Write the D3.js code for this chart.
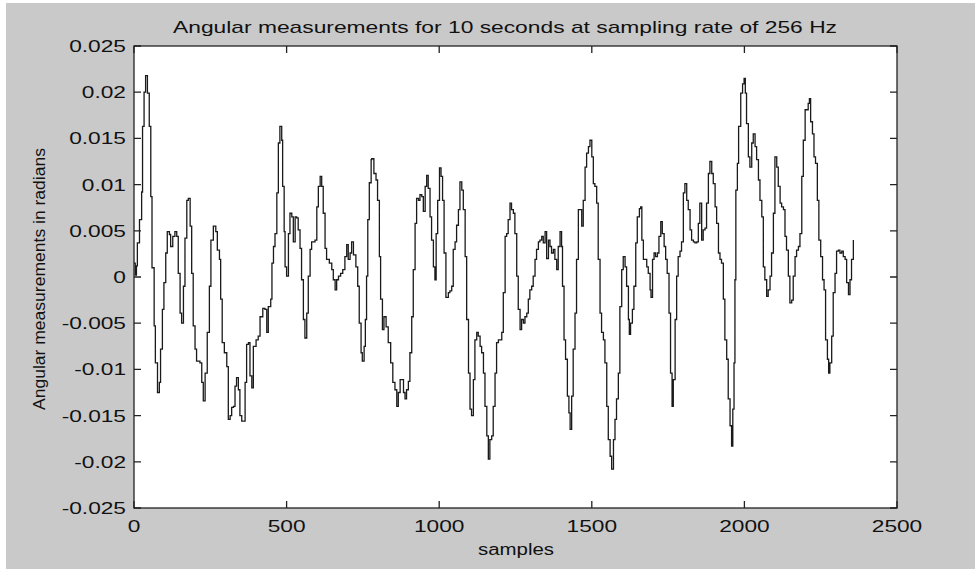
<!DOCTYPE html>
<html>
<head>
<meta charset="utf-8">
<script src="https://cdn.jsdelivr.net/npm/d3@7"></script>
<style>
  body { margin: 0; background: #fff; }
  text { font-family: "Liberation Sans", Arial, sans-serif; fill: #111; }
</style>
</head>
<body>
<svg id="chart" width="975" height="569"></svg>
<script>
// sample index and angle (rad)
const samples = [0, 4, 8, 11, 18, 25, 28, 33, 38, 44, 50, 55, 59, 66, 70, 77, 83, 87, 93, 98, 104, 109, 116, 120, 127, 134, 140, 145, 151, 156, 162, 167, 173, 178, 184, 189, 194, 200, 205, 216, 222, 227, 233, 240, 247, 252, 260, 268, 273, 280, 284, 289, 296, 304, 309, 315, 320, 326, 331, 336, 342, 347, 353, 358, 364, 369, 375, 380,
  386, 391, 400, 407, 413, 422, 429, 435, 440, 448, 452, 457, 462, 468, 473, 478, 484, 487, 492, 495, 500, 506, 511, 517, 522, 528, 533, 538, 544, 549, 555, 560, 566, 571, 577, 582, 593, 599, 604, 610, 615, 620, 626, 631, 640, 648, 653, 659, 664, 670, 677, 684, 691, 697, 702, 708, 713, 719, 727, 733, 738, 744, 748, 754, 758, 762, 766, 771, 777,
  779, 786, 793, 798, 804, 808, 814, 819, 826, 833, 841, 848, 855, 861, 866, 872, 877, 883, 888, 893, 899, 904, 910, 915, 921, 926, 932, 937, 943, 948, 954, 959, 964, 970, 975, 981, 986, 990, 995, 1001, 1006, 1011, 1016, 1022, 1030, 1035, 1041, 1046, 1052, 1057, 1063, 1068, 1074, 1079, 1085, 1090, 1096, 1101, 1106, 1112, 1117, 1123, 1128, 1134, 1139, 1145, 1150, 1156, 1161, 1166,
  1172, 1177, 1183, 1188, 1194, 1199, 1205, 1210, 1216, 1221, 1226, 1232, 1237, 1243, 1248, 1254, 1259, 1265, 1270, 1276, 1281, 1287, 1292, 1297, 1303, 1308, 1314, 1319, 1325, 1330, 1336, 1341, 1347, 1352, 1358, 1363, 1368, 1374, 1379, 1385, 1390, 1396, 1401, 1404, 1409, 1414, 1420, 1425, 1429, 1434, 1439, 1445, 1450, 1456, 1461, 1467, 1472, 1478, 1483, 1489, 1494, 1500, 1505, 1510, 1516, 1521, 1527, 1532, 1538, 1543, 1549, 1554, 1560, 1565,
  1571, 1576, 1581, 1587, 1592, 1598, 1603, 1609, 1614, 1620, 1623, 1627, 1633, 1638, 1644, 1649, 1656, 1660, 1664, 1669, 1674, 1680, 1685, 1691, 1694, 1699, 1704, 1709, 1715, 1720, 1726, 1731, 1737, 1742, 1747, 1753, 1758, 1763, 1767, 1773, 1778, 1783, 1789, 1794, 1800, 1805, 1811, 1816, 1822, 1827, 1833, 1838, 1844, 1849, 1854, 1860, 1865, 1871, 1876, 1882, 1887, 1893, 1898, 1904, 1909, 1915, 1920, 1925, 1931, 1936, 1942, 1947, 1953, 1958,
  1962, 1966, 1969, 1972, 1977, 1981, 1988, 1994, 1999, 2003, 2007, 2013, 2018, 2024, 2029, 2035, 2040, 2046, 2051, 2057, 2062, 2067, 2073, 2078, 2084, 2089, 2095, 2100, 2106, 2111, 2117, 2122, 2128, 2133, 2138, 2144, 2149, 2155, 2160, 2166, 2171, 2177, 2182, 2188, 2193, 2199, 2204, 2209, 2213, 2217, 2223, 2228, 2233, 2239, 2244, 2250, 2256, 2261, 2266, 2272, 2276, 2280, 2286, 2291, 2297, 2302, 2308, 2313, 2319, 2324, 2330, 2335, 2341, 2346, 2351, 2357];
const angles = [0.0015, 0.0002, 0.0012, 0.0037, 0.0062, 0.0092, 0.0163, 0.0200, 0.0218, 0.0199, 0.0163, 0.0087, 0.0010, -0.0053, -0.0093, -0.0125, -0.0114, -0.0078, -0.0035, -0.0006, 0.0026, 0.0049, 0.0046, 0.0033, 0.0044, 0.0049, 0.0044, 0.0004, -0.0039, -0.0050, -0.0010, 0.0042, 0.0083, 0.0085, 0.0055, 0.0004, -0.0053, -0.0078, -0.0091, -0.0093, -0.0114, -0.0134, -0.0104, -0.0060, -0.0010, 0.0040, 0.0055, 0.0049, 0.0029, 0.0019, -0.0024, -0.0071, -0.0082, -0.0097, -0.0154, -0.0150, -0.0141, -0.0140, -0.0118, -0.0109, -0.0122, -0.0150, -0.0156, -0.0156, -0.0114, -0.0073, -0.0071, -0.0107,
  -0.0120, -0.0075, -0.0068, -0.0064, -0.0043, -0.0034, -0.0035, -0.0060, -0.0032, -0.0024, 0.0015, 0.0033, 0.0047, 0.0091, 0.0145, 0.0163, 0.0148, 0.0098, 0.0049, 0.0011, 0.0001, 0.0047, 0.0069, 0.0065, 0.0038, 0.0065, 0.0064, 0.0051, 0.0031, -0.0003, -0.0046, -0.0066, -0.0039, 0.0001, 0.0030, 0.0038, 0.0040, 0.0076, 0.0098, 0.0109, 0.0098, 0.0069, 0.0031, 0.0019, 0.0015, 0.0008, -0.0003, -0.0014, -0.0003, 0.0001, 0.0004, 0.0008, 0.0022, 0.0035, 0.0019, 0.0026, 0.0038, 0.0024, 0.0011, -0.0010, -0.0050, -0.0082, -0.0091, -0.0075, -0.0046, 0.0001, 0.0062, 0.0102, 0.0127,
  0.0128, 0.0112, 0.0105, 0.0083, 0.0022, -0.0024, -0.0057, -0.0043, -0.0054, -0.0071, -0.0093, -0.0114, -0.0122, -0.0140, -0.0125, -0.0111, -0.0111, -0.0125, -0.0132, -0.0122, -0.0113, -0.0082, -0.0043, 0.0008, 0.0058, 0.0085, 0.0083, 0.0089, 0.0087, 0.0071, 0.0098, 0.0110, 0.0096, 0.0065, 0.0040, 0.0011, -0.0003, 0.0047, 0.0083, 0.0118, 0.0109, 0.0083, 0.0026, -0.0022, -0.0017, -0.0015, -0.0010, 0.0030, 0.0038, 0.0056, 0.0073, 0.0103, 0.0094, 0.0073, 0.0022, -0.0046, -0.0104, -0.0143, -0.0150, -0.0111, -0.0068, -0.0060, -0.0064, -0.0075, -0.0082, -0.0104, -0.0140, -0.0172, -0.0197, -0.0176,
  -0.0172, -0.0140, -0.0104, -0.0071, -0.0068, -0.0068, -0.0060, -0.0017, 0.0044, 0.0047, 0.0062, 0.0080, 0.0073, 0.0069, 0.0047, 0.0001, -0.0035, -0.0057, -0.0046, -0.0050, -0.0043, -0.0039, -0.0024, -0.0014, -0.0010, 0.0001, 0.0019, 0.0030, 0.0038, 0.0040, 0.0044, 0.0037, 0.0049, 0.0020, 0.0040, 0.0033, 0.0026, 0.0030, 0.0019, 0.0008, 0.0033, 0.0049, 0.0033, -0.0010, -0.0068, -0.0089, -0.0129, -0.0147, -0.0165, -0.0129, -0.0078, -0.0039, 0.0019, 0.0073, 0.0073, 0.0055, 0.0083, 0.0119, 0.0134, 0.0141, 0.0148, 0.0130, 0.0101, 0.0098, 0.0080, 0.0019, -0.0039, -0.0060, -0.0068, -0.0093, -0.0140, -0.0176, -0.0194, -0.0208,
  -0.0176, -0.0154, -0.0132, -0.0104, -0.0032, 0.0008, 0.0022, 0.0011, -0.0010, -0.0046, -0.0062, -0.0050, -0.0035, -0.0010, 0.0037, 0.0065, 0.0074, 0.0076, 0.0040, 0.0019, 0.0019, 0.0011, 0.0004, -0.0014, -0.0022, 0.0019, 0.0026, 0.0022, 0.0026, 0.0044, 0.0060, 0.0047, 0.0033, 0.0019, 0.0004, -0.0039, -0.0104, -0.0140, -0.0111, -0.0046, 0.0001, 0.0022, 0.0028, 0.0038, 0.0091, 0.0101, 0.0083, 0.0073, 0.0051, 0.0040, 0.0038, 0.0037, 0.0038, 0.0058, 0.0080, 0.0040, 0.0051, 0.0053, 0.0080, 0.0112, 0.0125, 0.0112, 0.0101, 0.0076, 0.0058, 0.0026, 0.0019, 0.0015, -0.0024, -0.0068, -0.0089, -0.0132, -0.0161, -0.0183,
  -0.0143, -0.0093, -0.0003, 0.0094, 0.0123, 0.0163, 0.0199, 0.0209, 0.0215, 0.0199, 0.0166, 0.0130, 0.0119, 0.0145, 0.0155, 0.0141, 0.0127, 0.0105, 0.0083, 0.0065, 0.0011, -0.0003, -0.0021, -0.0014, 0.0001, 0.0026, 0.0069, 0.0130, 0.0119, 0.0098, 0.0080, 0.0076, 0.0073, 0.0044, 0.0029, 0.0001, -0.0028, -0.0025, 0.0001, 0.0022, 0.0029, 0.0033, 0.0047, 0.0109, 0.0148, 0.0181, 0.0181, 0.0188, 0.0193, 0.0168, 0.0155, 0.0130, 0.0123, 0.0083, 0.0040, 0.0022, -0.0003, -0.0014, -0.0068, -0.0089, -0.0104, -0.0093, -0.0064, -0.0017, 0.0004, 0.0028, 0.0029, 0.0026, 0.0028, 0.0022, 0.0019, -0.0006, -0.0019, -0.0003, 0.0019, 0.0040];

const xTicks = [0, 500, 1000, 1500, 2000, 2500];
const yTicks = [-0.025, -0.02, -0.015, -0.01, -0.005, 0, 0.005, 0.01, 0.015, 0.02, 0.025];
const yTickLabels = ["-0.025", "-0.02", "-0.015", "-0.01", "-0.005", "0", "0.005", "0.01", "0.015", "0.02", "0.025"];
const title = "Angular measurements for 10 seconds at sampling rate of 256 Hz";
const xLabel = "samples";
const yLabel = "Angular measurements in radians";

const W = 975, H = 569;
const m = { left: 134, right: 897, top: 46, bottom: 508 };
const stretch = 1.42; // the figure was saved stretched sideways

const svg = d3.select('#chart');

// figure background
svg.append('rect')
  .attr('x', 6).attr('y', 3)
  .attr('width', W - 6).attr('height', H - 3)
  .attr('fill', '#c9c9c9');

const x = d3.scaleLinear().domain([0, 2500]).range([m.left, m.right]);
const y = d3.scaleLinear().domain([-0.025, 0.025]).range([m.bottom, m.top]);

// axes area
svg.append('rect')
  .attr('x', m.left).attr('y', m.top)
  .attr('width', m.right - m.left).attr('height', m.bottom - m.top)
  .attr('fill', '#fff');

const data = samples.map((s, i) => ({ s: s, v: angles[i] }));

const line = d3.line()
  .x(d => x(d.s))
  .y(d => y(d.v))
  .curve(d3.curveStepAfter);

svg.append('path')
  .datum(data)
  .attr('fill', 'none')
  .attr('stroke', '#1a1a1a')
  .attr('stroke-width', 1.3)
  .attr('d', line);

// box + inward ticks, matlab style
const tk = 7;
const axisG = svg.append('g').attr('stroke', '#222').attr('stroke-width', 1.3).attr('fill', 'none');
axisG.append('rect')
  .attr('x', m.left).attr('y', m.top)
  .attr('width', m.right - m.left).attr('height', m.bottom - m.top);

axisG.selectAll('.xt').data(xTicks).join('path')
  .attr('d', d => `M${x(d)},${m.bottom}v${-tk}M${x(d)},${m.top}v${tk}`);
axisG.selectAll('.yt').data(yTicks).join('path')
  .attr('d', d => `M${m.left},${y(d)}h${tk}M${m.right},${y(d)}h${-tk}`);

// tick labels
function wideText(g, tx, ty, str, anchor, size) {
  g.append('text')
    .attr('transform', `translate(${tx},${ty}) scale(${stretch},1)`)
    .attr('text-anchor', anchor)
    .attr('font-size', size)
    .text(str);
}

const lbl = svg.append('g');
yTicks.forEach((t, i) => wideText(lbl, 126, y(t) + 6, yTickLabels[i], 'end', 16));
xTicks.forEach(t => wideText(lbl, x(t), 532, String(t), 'middle', 16));

// title and axis labels
svg.append('text')
  .attr('x', 173).attr('y', 33)
  .attr('font-size', 17)
  .attr('textLength', 664)
  .attr('lengthAdjust', 'spacingAndGlyphs')
  .text(title);

svg.append('text')
  .attr('x', 478).attr('y', 555)
  .attr('font-size', 16)
  .attr('textLength', 76)
  .attr('lengthAdjust', 'spacingAndGlyphs')
  .text(xLabel);

svg.append('text')
  .attr('transform', 'translate(45,410) rotate(-90)')
  .attr('font-size', 16)
  .attr('textLength', 262)
  .attr('lengthAdjust', 'spacingAndGlyphs')
  .text(yLabel);
</script>
</body>
</html>
